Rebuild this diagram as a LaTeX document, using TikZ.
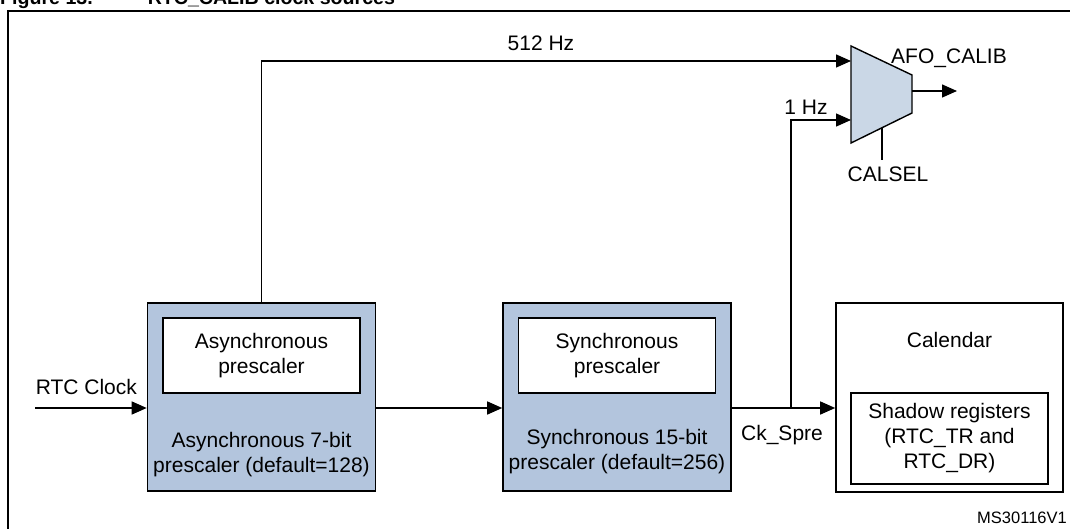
\documentclass[tikz,border=0pt]{standalone}
\usepackage{fontspec}
\setmainfont{Liberation Sans}
\usepackage{tikz}
\usetikzlibrary{arrows.meta}
\usepackage{xcolor}

\definecolor{boxblue}{HTML}{B3C5DD}
\definecolor{muxblue}{HTML}{CAD7E6}

\tikzset{
    sig/.style={-{Triangle[length=15pt, width=13pt]}, line width=1.4pt},
    wire/.style={line width=1.4pt},
    prebox/.style={draw, line width=1.6pt, fill=boxblue, minimum width=228pt, minimum height=188pt, inner sep=0pt},
    calbox/.style={draw, line width=1.6pt, fill=white, minimum width=227pt, minimum height=189pt, inner sep=0pt},
    innerbox/.style={draw, line width=1.4pt, fill=white, minimum width=197pt, minimum height=75pt, align=center, inner sep=0pt},
    lbl/.style={inner sep=0pt, align=center}
}

\begin{document}
\begin{tikzpicture}[x=1pt, y=-1pt, font=\fontsize{21}{25}\selectfont]

        \useasboundingbox (0,0) rectangle (1070,529);

        % caption (cut at the top) and outer frame
        \node[anchor=base west, inner sep=0pt, font=\bfseries\fontsize{19.6}{22}\selectfont] (title) at (0,5) {Figure 13.\hspace{55pt}RTC\_CALIB clock sources};
        \draw[line width=2pt] (8,545) -- (8,11) -- (1085,11);

        % blocks
        \node[prebox] (async) at (261.5,397) {};
        \node[innerbox] (asyncin) at (261.5,355.5) {Asynchronous\\prescaler};
        \node[lbl] (asynclbl) at (261.5,455) {Asynchronous 7-bit\\prescaler (default=128)};

        \node[prebox] (sync) at (617,397) {};
        \node[innerbox] (syncin) at (617,355.5) {Synchronous\\prescaler};
        \node[lbl] (synclbl) at (617,452) {Synchronous 15-bit\\prescaler (default=256)};

        \node[calbox] (cal) at (949.5,397.5) {};
        \node[lbl] (callbl) at (949.5,340) {Calendar};
        \node[draw, line width=1.4pt, minimum width=197pt, minimum height=91pt, inner sep=0pt, align=center] (shadow) at (949.5,438.5) {Shadow registers\\(RTC\_TR and\\RTC\_DR)};

        % multiplexer
        \coordinate (in512) at (851,61);
        \coordinate (in1) at (851,120);
        \coordinate (muxout) at (912,91);
        \coordinate (sel) at (882,128);
        \draw[line width=1.4pt, fill=muxblue] (851,46) -- (912,75) -- (912,113) -- (851,143) -- cycle;

        % connectors
        \coordinate (rtcin) at (35,408);
        \coordinate (br) at (791,408);
        \coordinate (afo) at (957,91);
        \coordinate (calsel) at (882,160);

        \draw[sig] (rtcin) -- (rtcin -| async.west) node[pos=0.46, above=13pt, lbl] {RTC Clock};
        \draw[sig] (async.east |- rtcin) -- (sync.west |- rtcin);
        \draw[sig] (sync.east |- rtcin) -- (cal.west |- rtcin);
        \draw[sig] (async.north) |- (in512);
        \draw[sig] (br) |- (in1);
        \draw[sig] (muxout) -- (afo);
        \draw[wire] (sel) -- (calsel) node[below=6pt, lbl, xshift=6pt] {CALSEL};

        \node[lbl] (hz512) at (541,43) {512 Hz};
        \node[lbl] (hz1) at (806,107) {1 Hz};
        \node[lbl] (afolbl) at (949,58) {AFO\_CALIB};
        \node[lbl] (ckspre) at (782,435) {Ck\_Spre};
        \node[lbl, font=\fontsize{16.5}{19}\selectfont] (msref) at (1022,518) {MS30116V1};

    \end{tikzpicture}
\end{document}
